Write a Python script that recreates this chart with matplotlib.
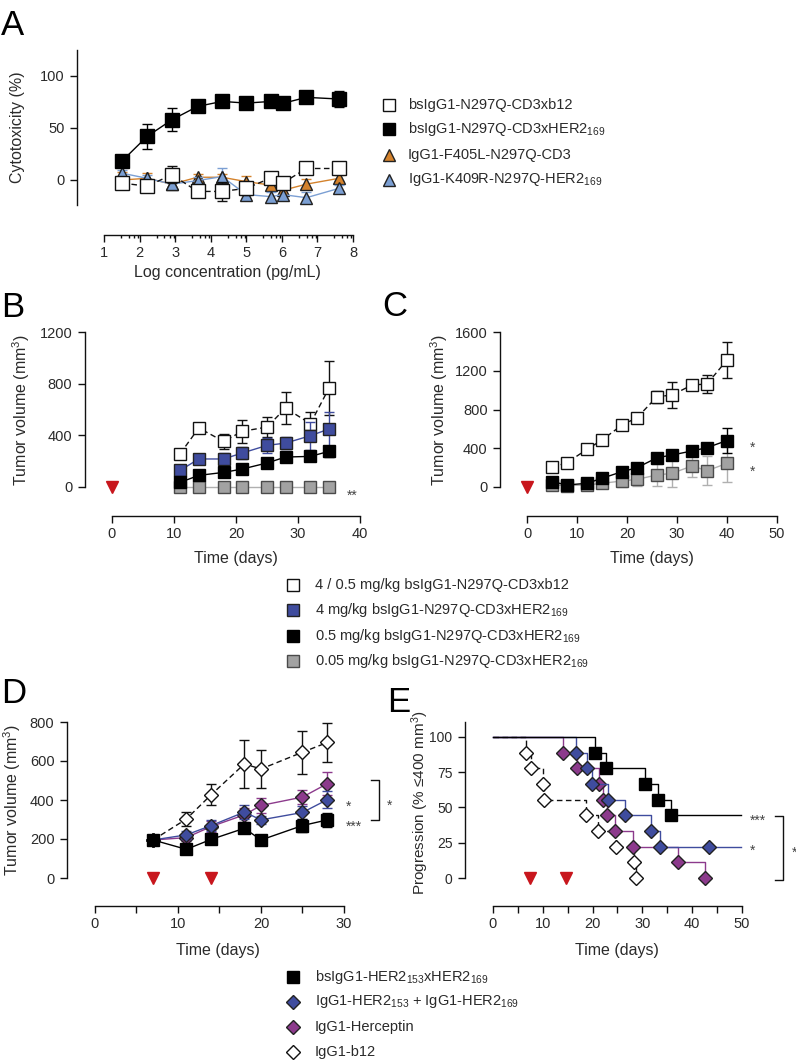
"""
Bispecific antibody panels A-E (cytotoxicity, tumour growth, progression).
Builds the whole figure on one canvas and writes out.png.
"""

import matplotlib
matplotlib.use('Agg')
import matplotlib.pyplot as plt

plt.rcParams['font.family'] = ['Liberation Sans', 'DejaVu Sans']
plt.rcParams['mathtext.fontset'] = 'custom'
plt.rcParams['mathtext.rm'] = 'Liberation Sans'
plt.rcParams['mathtext.it'] = 'Liberation Sans:italic'
plt.rcParams['mathtext.bf'] = 'Liberation Sans:bold'

W, H = 796, 1062

BLUE = '#3f4c9e'
PURPLE = '#8c3a8c'
ORANGE = '#d4822c'
LBLUE = '#7b9fd3'
GRAY = '#a2a2a2'
LGRAY = '#b0b0b0'
RED = '#c8161d'
TXT = '#2a2a2a'

# ── Panel A: cytotoxicity vs log concentration ─────────
a_logc = [1.52, 2.21, 2.91, 3.63, 4.32, 5.0, 5.7, 6.02, 6.69, 7.61]
a_her2 = [18.6, 41.7, 57.7, 70.5, 75.3, 73.7, 75.3, 73.4, 79.2, 77.6]
a_her2_err = [3, 12, 11, 3, 3, 3, 3, 3, 3, 8]
a_b12 = [-3, -6, 5, -11, -11, -8, 2, -3, 11, 11]
a_b12_err = [4, 5, 8, 5, 9, 6, 3, 4, 3, 3]
a_cd3 = [0, 1.6, -4, 2.6, 2.6, -1.6, -5, -10, -4, 1.6]
a_cd3_err = [8, 5, 3, 3, 3, 5, 3, 3, 5, 3]
a_k409 = [6.4, 1.6, -4, -0.6, 3.2, -14, -16, -14, -17, -8]
a_k409_err = [3, 3, 3, 3, 8, 3, 4, 5, 5, 3]
a_labels = ['bsIgG1-N297Q-CD3xb12',
            'bsIgG1-N297Q-CD3xHER2$_{169}$',
            'IgG1-F405L-N297Q-CD3',
            'IgG1-K409R-N297Q-HER2$_{169}$']

# ── Panel B: tumour volume, first dosing ──────────────
b_days = [11, 14, 18, 21, 25, 28, 32, 35]
b_ctrl = [258, 457, 353, 431, 464, 611, 490, 766]
b_ctrl_err = [20, 25, 55, 90, 80, 125, 90, 210]
b_4mg = [129, 217, 217, 263, 322, 340, 397, 449]
b_4mg_err = [30, 40, 50, 45, 60, 45, 110, 135]
b_05mg = [36, 90, 113, 139, 186, 232, 237, 276]
b_05mg_err = [30, 25, 25, 25, 25, 25, 25, 40]
b_005mg = [0, 0, 0, 0, 0, 0, 0, 0]
b_dose_days = [0]

# ── Panel C: tumour volume, second model ──────────────
c_days = [5, 8, 12, 15, 19, 22, 26, 29, 33, 36, 40]
c_ctrl = [203, 251, 389, 485, 640, 715, 932, 949, 1053, 1063, 1311]
c_ctrl_err = [15, 15, 15, 15, 15, 15, 60, 135, 20, 90, 190]
c_05mg = [55, 21, 38, 90, 158, 199, 302, 330, 372, 406, 480]
c_05mg_err = [20, 15, 15, 20, 30, 30, 30, 30, 30, 30, 126]
c_005mg = [20, 15, 21, 38, 62, 79, 124, 141, 217, 168, 244]
c_005mg_err = [10, 10, 15, 20, 60, 70, 110, 140, 110, 150, 190]
c_dose_days = [0]

bc_labels = ['4 / 0.5 mg/kg bsIgG1-N297Q-CD3xb12',
             '4 mg/kg bsIgG1-N297Q-CD3xHER2$_{169}$',
             '0.5 mg/kg bsIgG1-N297Q-CD3xHER2$_{169}$',
             '0.05 mg/kg bsIgG1-N297Q-CD3xHER2$_{169}$']

# ── Panel D: tumour volume, HER2 x HER2 ───────────────
d_days = [7, 11, 14, 18, 20, 25, 28]
d_bs = [195, 147, 198, 255, 195, 269, 298]
d_bs_err = [10, 15, 15, 25, 10, 35, 35]
d_combo = [195, 221, 269, 338, 298, 336, 402]
d_combo_err = [10, 20, 30, 35, 20, 35, 45]
d_hercep = [195, 207, 264, 324, 372, 415, 484]
d_hercep_err = [10, 15, 30, 35, 40, 35, 60]
d_b12 = [195, 302, 427, 585, 559, 645, 695]
d_b12_err = [10, 35, 55, 122, 95, 110, 100]
d_dose_days = [7, 14]

# ── Panel E: progression (Kaplan-Meier) ───────────────
e_bs_days = [20.5, 22.8, 30.5, 33.1, 35.7]
e_bs_surv = [88.9, 77.8, 66.7, 55.6, 44.4]
e_combo_days = [16.7, 18.8, 19.9, 23.2, 26.5, 31.8, 33.5]
e_combo_surv = [88.9, 77.8, 66.7, 55.6, 44.4, 33.3, 22.2]
e_combo_cens = [43.3]
e_hercep_days = [14.0, 16.9, 21.3, 22.2, 23.0, 24.5, 28.2, 37.2, 42.5]
e_hercep_surv = [88.9, 77.8, 66.7, 55.6, 44.4, 33.3, 22.2, 11.1, 0]
e_b12_days = [6.7, 7.7, 10.0, 10.2, 18.7, 21.1, 24.7, 28.3, 28.8]
e_b12_surv = [88.9, 77.8, 66.7, 55.6, 44.4, 33.3, 22.2, 11.1, 0]
e_end = 49.7
e_dose_days = [7.5, 14.7]

de_labels = ['bsIgG1-HER2$_{153}$xHER2$_{169}$',
             'IgG1-HER2$_{153}$ + IgG1-HER2$_{169}$',
             'IgG1-Herceptin',
             'IgG1-b12']


# ──────────────────────────────────────────────
# helpers
# ──────────────────────────────────────────────
def px_axes(fig, left, top, right, bottom):
    return fig.add_axes([left / W, 1 - bottom / H, (right - left) / W, (bottom - top) / H])


def style_axes(ax, xlim, ylim, xbounds, xticks, yticks, drop, xminor=None, minor_len=5):
    ax.set_xlim(*xlim)
    ax.set_ylim(*ylim)
    ax.patch.set_visible(False)
    ax.spines[['top', 'right']].set_visible(False)
    for s in ['left', 'bottom']:
        ax.spines[s].set_linewidth(1.0)
        ax.spines[s].set_color('#111111')
    ax.spines['bottom'].set_position(('outward', drop * 0.72))
    ax.spines['bottom'].set_bounds(*xbounds)
    ax.set_xticks(xticks)
    ax.set_yticks(yticks)
    if xminor is not None:
        ax.set_xticks(xminor, minor=True)
    ax.tick_params(which='major', direction='out', length=5, width=1.0, pad=3,
                   labelsize=10.5, labelcolor=TXT, color='#111111')
    ax.tick_params(axis='y', pad=4)
    ax.tick_params(which='minor', direction='out', length=minor_len, width=1.0, color='#111111')


def series(ax, x, y, err, marker, ms, fc, ec, lc, dashed=False, z=2, ecol=None):
    cont = ax.errorbar(x, y, yerr=err, marker=marker, ms=ms, mfc=fc, mec=ec, mew=1.0,
                       color=lc, lw=1.0, ecolor=ecol or lc, elinewidth=1.0,
                       capsize=3.5, capthick=1.0, zorder=z)
    if dashed:
        cont.lines[0].set_dashes((4, 2.5))
    for art in cont.get_children():
        art.set_clip_on(False)


def dose_marks(ax, days):
    ax.plot(days, [0] * len(days), ls='none', marker='v', ms=9, color=RED,
            mec=RED, clip_on=False, zorder=5)


def stars(ax, x, y, s):
    ax.annotate(s, (x, y), xytext=(0, -5.5), textcoords='offset points',
                ha='left', va='baseline', fontsize=10, color='#444444',
                annotation_clip=False)


def km(ax, days, surv, color, marker, ms, fc, ec, end=None, dashed=False, z=2):
    xs = [0] + days + ([end] if end is not None else [])
    ys = [100] + surv + ([surv[-1]] if end is not None else [])
    ln, = ax.step(xs, ys, where='post', color=color, lw=1.0, zorder=z, clip_on=False)
    if dashed:
        ln.set_dashes((4, 2.5))
    ax.plot(days, surv, ls='none', marker=marker, ms=ms, mfc=fc, mec=ec, mew=1.0,
            zorder=z + 0.5, clip_on=False)


# ──────────────────────────────────────────────
# figure
# ──────────────────────────────────────────────
fig = plt.figure(figsize=(W / 100, H / 100), dpi=100)
ov = fig.add_axes([0, 0, 1, 1])
ov.set_xlim(0, W)
ov.set_ylim(H, 0)
ov.axis('off')

# ── A ──
axA = px_axes(fig, 77, 50, 353, 205)
a_minor = [n + m for n in range(1, 8) for m in (0.477, 0.699, 0.845, 0.954)]
style_axes(axA, (0.241, 8), (-24, 124.6), (1, 8), range(1, 9), [0, 50, 100], 30,
           xminor=a_minor, minor_len=2.5)
series(axA, a_logc, a_cd3, a_cd3_err, '^', 9, ORANGE, '#222222', ORANGE, z=2)
series(axA, a_logc, a_k409, a_k409_err, '^', 9, LBLUE, '#222222', LBLUE, z=3)
series(axA, a_logc, a_b12, a_b12_err, 's', 9.5, 'white', '#111111', '#111111', dashed=True, z=4)
series(axA, a_logc, a_her2, a_her2_err, 's', 9.5, 'black', 'black', 'black', z=5)

# ── B ──
axB = px_axes(fig, 85, 332, 360, 487)
style_axes(axB, (-4.35, 40), (0, 1200), (0, 40), [0, 10, 20, 30, 40], [0, 400, 800, 1200], 29)
series(axB, b_days, b_ctrl, b_ctrl_err, 's', 8.5, 'white', '#111111', '#111111', dashed=True, z=2)
series(axB, b_days, b_4mg, b_4mg_err, 's', 8.5, BLUE, '#222222', BLUE, z=3)
series(axB, b_days, b_005mg, None, 's', 8.5, GRAY, '#4a4a4a', LGRAY, z=4)
series(axB, b_days, b_05mg, b_05mg_err, 's', 8.5, 'black', 'black', 'black', z=5)
dose_marks(axB, b_dose_days)
stars(axB, 37.9, -39, '**')

# ── C ──
axC = px_axes(fig, 500, 332, 777, 487)
style_axes(axC, (-5.4, 50), (0, 1600), (0, 50), [0, 10, 20, 30, 40, 50], [0, 400, 800, 1200, 1600], 29)
series(axC, c_days, c_ctrl, c_ctrl_err, 's', 8.5, 'white', '#111111', '#111111', dashed=True, z=2)
series(axC, c_days, c_005mg, c_005mg_err, 's', 8.5, GRAY, '#4a4a4a', LGRAY, z=3)
series(axC, c_days, c_05mg, c_05mg_err, 's', 8.5, 'black', 'black', 'black', z=4)
dose_marks(axC, c_dose_days)
stars(axC, 44.6, 444, '*')
stars(axC, 44.6, 196, '*')

# ── D ──
axD = px_axes(fig, 67, 722, 344, 878)
style_axes(axD, (-3.37, 30), (0, 800), (0, 30), [0, 10, 20, 30], [0, 200, 400, 600, 800], 28,
           xminor=[5, 15, 25], minor_len=5)
series(axD, d_days, d_b12, d_b12_err, 'D', 7.5, 'white', '#111111', '#111111', dashed=True, z=2)
series(axD, d_days, d_hercep, d_hercep_err, 'D', 7.5, PURPLE, '#222222', PURPLE, z=3)
series(axD, d_days, d_combo, d_combo_err, 'D', 7.5, BLUE, '#222222', BLUE, z=4)
series(axD, d_days, d_bs, d_bs_err, 's', 8.5, 'black', 'black', 'black', z=5)
dose_marks(axD, d_dose_days)
stars(axD, 30.2, 385, '*')
stars(axD, 30.2, 282, '***')
axD.plot([33.25, 34.2, 34.2, 33.25], [503, 503, 297, 297], color='#111111', lw=1.0, clip_on=False)
stars(axD, 35.2, 390, '*')

# ── E ──
axE = px_axes(fig, 465, 722, 742, 878)
style_axes(axE, (-5.6, 50), (0, 110.6), (0, 50), [0, 10, 20, 30, 40, 50], [0, 25, 50, 75, 100], 28,
           xminor=[5, 15, 25, 35, 45], minor_len=5)
axE.tick_params(axis='y', labelsize=10)
km(axE, e_b12_days, e_b12_surv, '#111111', 'D', 7, 'white', '#111111', dashed=True, z=2)
km(axE, e_hercep_days, e_hercep_surv, PURPLE, 'D', 7, PURPLE, '#222222', z=3)
km(axE, e_combo_days, e_combo_surv, BLUE, 'D', 7, BLUE, '#222222', end=e_end, z=4)
axE.plot(e_combo_cens, [e_combo_surv[-1]] * len(e_combo_cens), ls='none', marker='D', ms=7,
         mfc=BLUE, mec='#222222', mew=1.0, zorder=4.5, clip_on=False)
km(axE, e_bs_days, e_bs_surv, 'black', 's', 8.5, 'black', 'black', end=e_end, z=5)
dose_marks(axE, e_dose_days)
stars(axE, 51.6, 43.3, '***')
stars(axE, 51.6, 22, '*')
axE.plot([56.6, 58.2, 58.2, 56.6], [44, 44, -1.4, -1.4], color='#111111', lw=1.0, clip_on=False)
stars(axE, 60.0, 20.6, '*')

# ── axis titles ──
ylab = dict(rotation=90, ha='center', va='center', fontsize=11.5, color=TXT)
ov.text(18, 127, 'Cytotoxicity (%)', **ylab)
ov.text(21, 410, 'Tumor volume (mm$^3$)', **ylab)
ov.text(439, 410, 'Tumor volume (mm$^3$)', **ylab)
ov.text(12, 800, 'Tumor volume (mm$^3$)', **ylab)
ov.text(420, 803, 'Progression (% \u2264400 mm$^3$)', **dict(ylab, fontsize=11))

xlab = dict(ha='center', va='center', fontsize=11.5, color=TXT)
ov.text(227, 273, 'Log concentration (pg/mL)', **xlab)
ov.text(236, 559, 'Time (days)', **xlab)
ov.text(652, 559, 'Time (days)', **xlab)
ov.text(218, 950, 'Time (days)', **xlab)
ov.text(617, 950, 'Time (days)', **xlab)

# ── panel letters ──
for letter, x, y in [('A', 1, 35), ('B', 1, 317), ('C', 382, 316), ('D', 1, 703), ('E', 387, 712)]:
    ov.text(x, y, letter, fontsize=25, ha='left', va='baseline', color='black')


# ── legends ──
def legend_rows(x_mark, x_text, rows, entries):
    for yy, (label, marker, ms, fc, ec) in zip(rows, entries):
        ov.plot([x_mark], [yy], ls='none', marker=marker, ms=ms, mfc=fc, mec=ec, mew=1.0)
        ov.text(x_text, yy, label, ha='left', va='center', fontsize=10.5, color=TXT)


legend_rows(389, 408, [105, 129, 155, 180], [
    (a_labels[0], 's', 8, 'white', '#111111'),
    (a_labels[1], 's', 8, 'black', 'black'),
    (a_labels[2], '^', 8.5, ORANGE, '#222222'),
    (a_labels[3], '^', 8.5, LBLUE, '#222222'),
])
legend_rows(293, 315, [585, 610, 636, 661], [
    (bc_labels[0], 's', 8, 'white', '#111111'),
    (bc_labels[1], 's', 8, BLUE, '#222222'),
    (bc_labels[2], 's', 8, 'black', 'black'),
    (bc_labels[3], 's', 8, GRAY, '#4a4a4a'),
])
legend_rows(293, 315, [977, 1002, 1027, 1052], [
    (de_labels[0], 's', 8, 'black', 'black'),
    (de_labels[1], 'D', 7, BLUE, '#222222'),
    (de_labels[2], 'D', 7, PURPLE, '#222222'),
    (de_labels[3], 'D', 7, 'white', '#111111'),
])

fig.savefig('out.png', dpi=100)
